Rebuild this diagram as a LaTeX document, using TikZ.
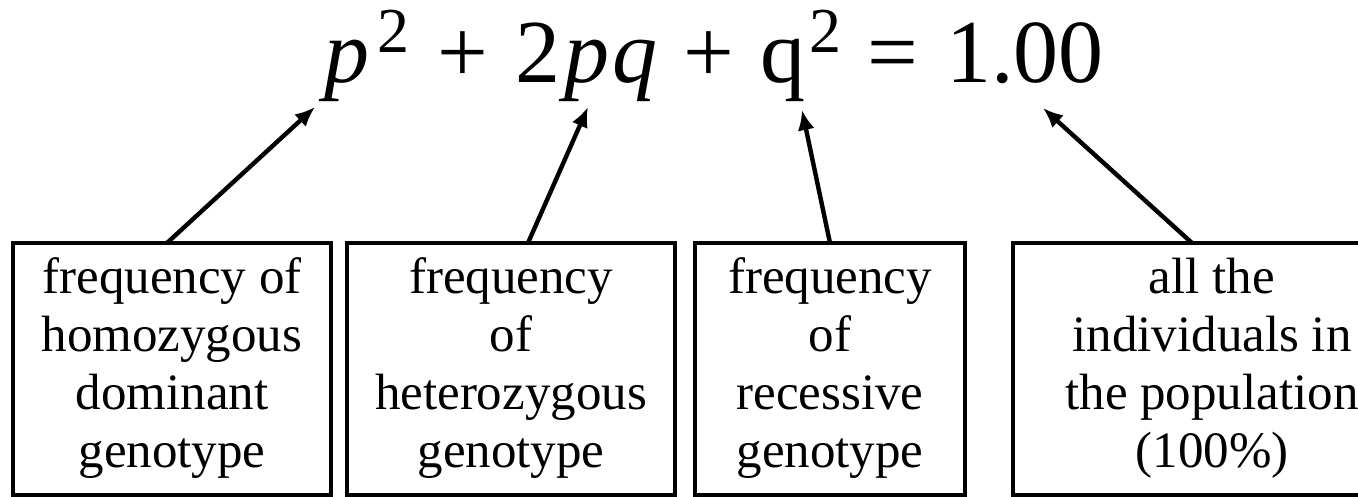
\documentclass[tikz,border=0pt]{standalone}
\usepackage{fontspec}
\setmainfont{Liberation Serif}
\usetikzlibrary{arrows.meta,positioning}

\newcommand{\sqd}{\raisebox{30pt}{\fontsize{64}{64}\selectfont 2}}

\begin{document}
\begin{tikzpicture}[x=1pt,y=-1pt,
    gbox/.style={draw=black,line width=4.6pt,inner sep=0pt,outer sep=0pt,
      minimum height=252pt,align=center,font=\fontsize{51}{58}\selectfont,
      execute at begin node={\rule{0pt}{48pt}},
      execute at end node={\rule[-12pt]{0pt}{12pt}}},
    pointer/.style={-{Latex[length=20pt,width=17pt]},line width=4.4pt}
  ]
  \useasboundingbox (0,0) rectangle (1358,497);
  \node[anchor=base west,inner sep=0pt,font=\fontsize{90}{100}\selectfont] (eq) at (324,83)
    {\textit{p}\kern8pt\sqd\hspace{28pt}+\hspace{28pt}2\kern4pt\textit{p}\kern3pt\textit{q}\hspace{26pt}+\hspace{26pt}q\kern4pt\sqd\hspace{26pt}=\hspace{28pt}1.00};
  \node[gbox,minimum width=318pt] (homo) at (172,369) {frequency of\\homozygous\\dominant\\genotype};
  \node[gbox,minimum width=328pt] (hetero) at (511,369) {frequency\\of\\heterozygous\\genotype};
  \node[gbox,minimum width=270pt] (reces) at (830,369) {frequency\\of\\recessive\\genotype};
  \node[gbox,minimum width=398pt] (whole) at (1212,369) {all the\\individuals in\\the population\\(100\%)};
  \coordinate (tipP) at (315,107);
  \coordinate (tipPQ) at (588,107);
  \coordinate (tipQ) at (802,110);
  \coordinate (tipOne) at (1043,108);
  \draw[pointer] ([xshift=-5pt]homo.north) -- (tipP);
  \draw[pointer] ([xshift=17pt]hetero.north) -- (tipPQ);
  \draw[pointer] (reces.north) -- (tipQ);
  \draw[pointer] ([xshift=-20pt]whole.north) -- (tipOne);
\end{tikzpicture}
\end{document}
